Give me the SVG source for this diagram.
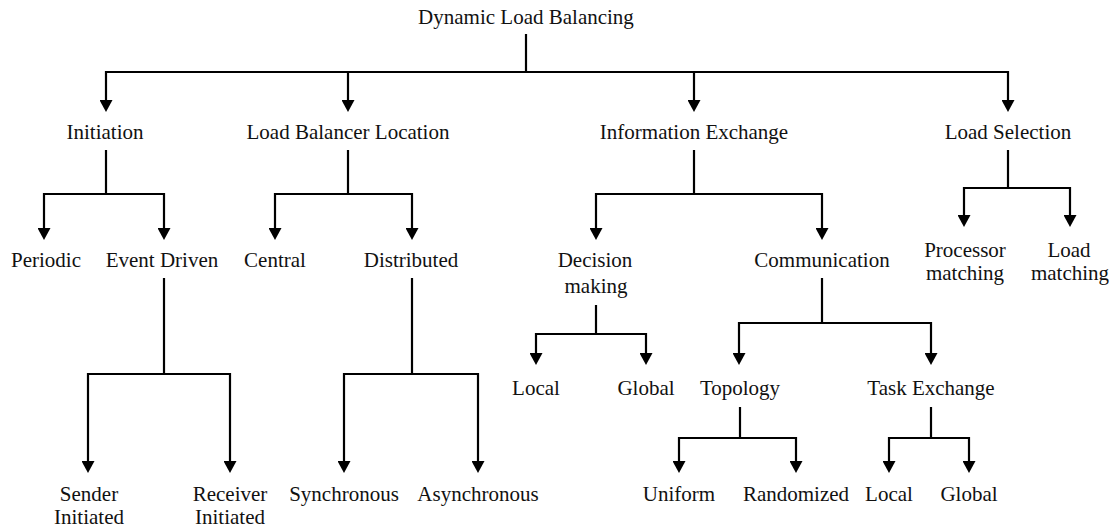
<svg xmlns="http://www.w3.org/2000/svg" width="1113" height="529" viewBox="0 0 1113 529">
<style>
text{font-family:'Liberation Serif',Tinos,'Times New Roman',Times,'DejaVu Serif',serif;font-size:21px;fill:#111;text-anchor:middle}
.c path{fill:none;stroke:#000;stroke-width:2.2;stroke-linejoin:miter}
.a{marker-end:url(#ah)}
</style>
<defs>
<marker id="ah" viewBox="0 0 12 13" markerWidth="12" markerHeight="13" refX="6" refY="6.5" orient="auto" markerUnits="userSpaceOnUse">
<path d="M0,0 L12,6.5 L0,13 z" fill="#000"/>
</marker>
</defs>
<rect width="1113" height="529" fill="#fff"/>
<g class="c" id="connectors">
<path d="M526,34 V72"/>
<path class="a" d="M526,72 H106 V106"/>
<path class="a" d="M526,72 H348 V106"/>
<path class="a" d="M526,72 H694 V106"/>
<path class="a" d="M526,72 H1008 V106"/>
<path d="M106,150 V194"/>
<path class="a" d="M106,194 H44 V234"/>
<path class="a" d="M106,194 H164 V234"/>
<path d="M348,150 V194"/>
<path class="a" d="M348,194 H275 V234"/>
<path class="a" d="M348,194 H412 V234"/>
<path d="M694,150 V194"/>
<path class="a" d="M694,194 H596 V234"/>
<path class="a" d="M694,194 H822 V234"/>
<path d="M1008,150 V188"/>
<path class="a" d="M1008,188 H964 V221"/>
<path class="a" d="M1008,188 H1070 V221"/>
<path d="M164,278 V374"/>
<path class="a" d="M164,374 H88 V467"/>
<path class="a" d="M164,374 H230 V467"/>
<path d="M412,278 V374"/>
<path class="a" d="M412,374 H344 V467"/>
<path class="a" d="M412,374 H478 V467"/>
<path d="M596,305 V334"/>
<path class="a" d="M596,334 H536 V359"/>
<path class="a" d="M596,334 H646 V359"/>
<path d="M822,278 V323"/>
<path class="a" d="M822,323 H739 V359"/>
<path class="a" d="M822,323 H931 V359"/>
<path d="M740,407 V438"/>
<path class="a" d="M740,438 H679 V467"/>
<path class="a" d="M740,438 H796 V467"/>
<path d="M931,407 V438"/>
<path class="a" d="M931,438 H889 V467"/>
<path class="a" d="M931,438 H969 V467"/>
</g>
<g id="root"><text x="526" y="24">Dynamic Load Balancing</text></g>
<g id="initiation"><text x="105" y="139">Initiation</text></g>
<g id="lbl"><text x="348" y="139">Load Balancer Location</text></g>
<g id="infoex"><text x="694" y="139">Information Exchange</text></g>
<g id="loadsel"><text x="1008" y="139">Load Selection</text></g>
<g id="periodic"><text x="46" y="267">Periodic</text></g>
<g id="eventdriven"><text x="162" y="267">Event Driven</text></g>
<g id="central"><text x="275" y="267">Central</text></g>
<g id="distributed"><text x="411" y="267">Distributed</text></g>
<g id="decision"><text x="595" y="267">Decision</text><text x="596" y="293">making</text></g>
<g id="communication"><text x="822" y="267">Communication</text></g>
<g id="procmatch"><text x="965" y="257">Processor</text><text x="965" y="280">matching</text></g>
<g id="loadmatch"><text x="1069" y="257">Load</text><text x="1070" y="280">matching</text></g>
<g id="local1"><text x="536" y="395">Local</text></g>
<g id="global1"><text x="646" y="395">Global</text></g>
<g id="topology"><text x="740" y="395">Topology</text></g>
<g id="taskex"><text x="931" y="395">Task Exchange</text></g>
<g id="sender"><text x="89" y="501">Sender</text><text x="89" y="524">Initiated</text></g>
<g id="receiver"><text x="230" y="501">Receiver</text><text x="230" y="524">Initiated</text></g>
<g id="sync"><text x="344" y="501">Synchronous</text></g>
<g id="async"><text x="478" y="501">Asynchronous</text></g>
<g id="uniform"><text x="679" y="501">Uniform</text></g>
<g id="randomized"><text x="796" y="501">Randomized</text></g>
<g id="local2"><text x="889" y="501">Local</text></g>
<g id="global2"><text x="969" y="501">Global</text></g>
</svg>
